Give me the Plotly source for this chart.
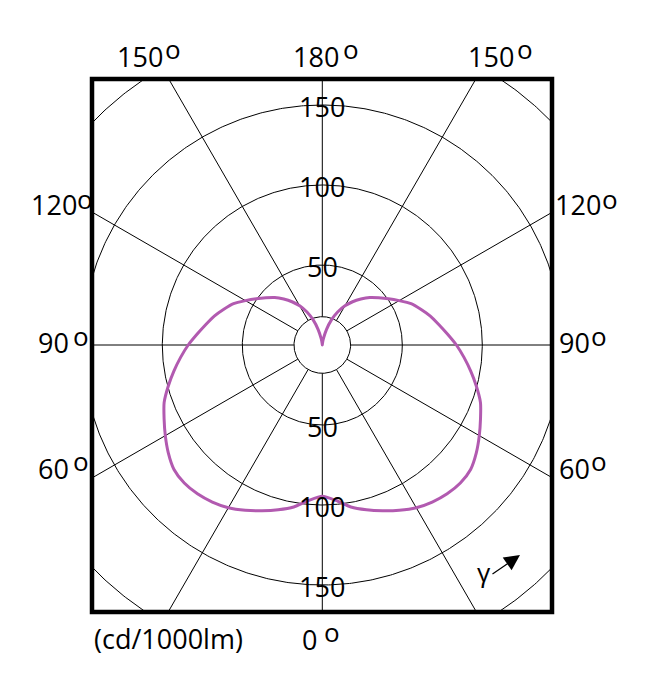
import numpy as np
import plotly.graph_objects as go

# ---- data ----
gamma_deg = list(range(0, 181, 5))  # angle from nadir (0° = straight down)
intensity = [94.5, 97.5, 102.8, 106.6, 110.2, 113.9, 117.4, 119.8, 121.4, 122.0,
             121.0, 117.5, 113.3, 109.1, 105.2, 99.7, 94.2, 88.9, 83.8, 78.5,
             73.9, 69.9, 65.5, 61.2, 55.5, 50.5, 46.0, 42.0, 37.5, 33.0,
             28.3, 22.7, 16.7, 10.0, 4.0, 1.0, 0.0]  # cd/1000lm
ring_values = [50, 100, 150, 200]
ring_labels = [50, 100, 150]
hub_value = 17.7
spoke_angles = list(range(0, 360, 30))
top_angle_labels = ["150", "180", "150"]
side_angle_labels = ["120", "90", "60"]
bottom_angle_label = "0"
degree_mark = "o"
unit_label = "(cd/1000lm)"
gamma_symbol = "γ"

# ---- layout geometry ----
W, H = 655, 689
OFF = 8                   # page body margin of the html output
ML, MT = 92 - OFF, 79 - OFF
PLOT_W, PLOT_H = 460, 533
MR = W - ML - PLOT_W
MB = H - MT - PLOT_H
CX, CY = 322.3, 345.0     # pixel centre of diagram (screen)
SCALE = 1.6               # px per cd/1000lm

x_range = [(92 - CX) / SCALE, (92 + PLOT_W - CX) / SCALE]
y_range = [(CY - (79 + PLOT_H)) / SCALE, (CY - 79) / SCALE]

FONT = "Open Sans, Noto Sans, Liberation Sans, sans-serif"
PURPLE = "#b25ab0"

fig = go.Figure()

# rings
t = np.linspace(0, 2 * np.pi, 721)
for rv in ring_values + [hub_value]:
    fig.add_trace(go.Scatter(x=rv * np.cos(t), y=rv * np.sin(t), mode="lines",
                             line=dict(color="black", width=1),
                             hoverinfo="skip", showlegend=False))

# spokes
for a in spoke_angles:
    ar = np.deg2rad(a)
    fig.add_trace(go.Scatter(x=[hub_value * np.sin(ar), 400 * np.sin(ar)],
                             y=[-hub_value * np.cos(ar), -400 * np.cos(ar)],
                             mode="lines", line=dict(color="black", width=1),
                             hoverinfo="skip", showlegend=False))

# intensity curve (symmetric C0-C180 plane)
g = np.deg2rad(np.array(gamma_deg, dtype=float))
r = np.array(intensity, dtype=float)
xr = r * np.sin(g)
yr = -r * np.cos(g)
xs = np.concatenate([-xr[::-1], xr[1:]])
ys = np.concatenate([yr[::-1], yr[1:]])
fig.add_trace(go.Scatter(x=xs, y=ys, mode="lines",
                         line=dict(color=PURPLE, width=3, shape="spline", smoothing=0.6),
                         hoverinfo="skip", showlegend=False))

annotations = []
# radial labels
for v in ring_labels:
    for sgn in (1, -1):
        annotations.append(dict(x=0, y=sgn * v, xref="x", yref="y", text=str(v),
                                showarrow=False, xanchor="center", yanchor="middle",
                                yshift=-1, font=dict(family=FONT, size=27, color="black")))


def px_ann(text, px, py, xanchor="center", size=27, yshift=-1):
    # px, py: screen pixel position
    return dict(x=(px - 92) / PLOT_W, y=(79 + PLOT_H - py) / PLOT_H, xref="paper", yref="paper",
                text=text, showarrow=False, xanchor=xanchor, yanchor="middle", yshift=yshift,
                font=dict(family=FONT, size=size, color="black"))


def angle_label(text, dx, dy, ox, oy):
    annotations.append(px_ann(text, dx, dy))
    annotations.append(px_ann(degree_mark, ox, oy, size=26, yshift=0))


# top row
for lab, (dx, ox) in zip(top_angle_labels, [(139.5, 173), (316, 351), (491, 525)]):
    angle_label(lab, dx, 55, ox, 48.5)
# sides
left_pos = [(54, 85), (53, 81), (53, 81)]
right_pos = [(578, 610), (574, 599), (574, 599)]
for lab, py, lp, rp in zip(side_angle_labels, [204, 341, 467], left_pos, right_pos):
    angle_label(lab, lp[0], py, lp[1], py - 5.5)
    angle_label(lab, rp[0], py, rp[1], py - 5.5)
# bottom
angle_label(bottom_angle_label, 309, 638, 332, 631.5)
annotations.append(px_ann(unit_label, 168, 637))
annotations.append(px_ann(gamma_symbol, 484, 571, size=26))
# gamma arrow
annotations.append(dict(x=(520 - 92) / PLOT_W, y=(79 + PLOT_H - 555) / PLOT_H, xref="paper", yref="paper",
                        text="", showarrow=True, ax=-29, ay=20, axref="pixel", ayref="pixel",
                        arrowhead=2, arrowsize=2.6, arrowwidth=1.2, arrowcolor="black"))

fig.update_layout(
    width=W, height=H, autosize=False,
    margin=dict(l=ML, r=MR, t=MT, b=MB),
    paper_bgcolor="white", plot_bgcolor="white",
    xaxis=dict(range=x_range, visible=False, fixedrange=True),
    yaxis=dict(range=y_range, visible=False, fixedrange=True),
    annotations=annotations,
    shapes=[dict(type="rect", xref="paper", yref="paper", x0=0, x1=1, y0=0, y1=1,
                 line=dict(color="black", width=4.5), layer="above")],
)

fig.write_html("out.html")
